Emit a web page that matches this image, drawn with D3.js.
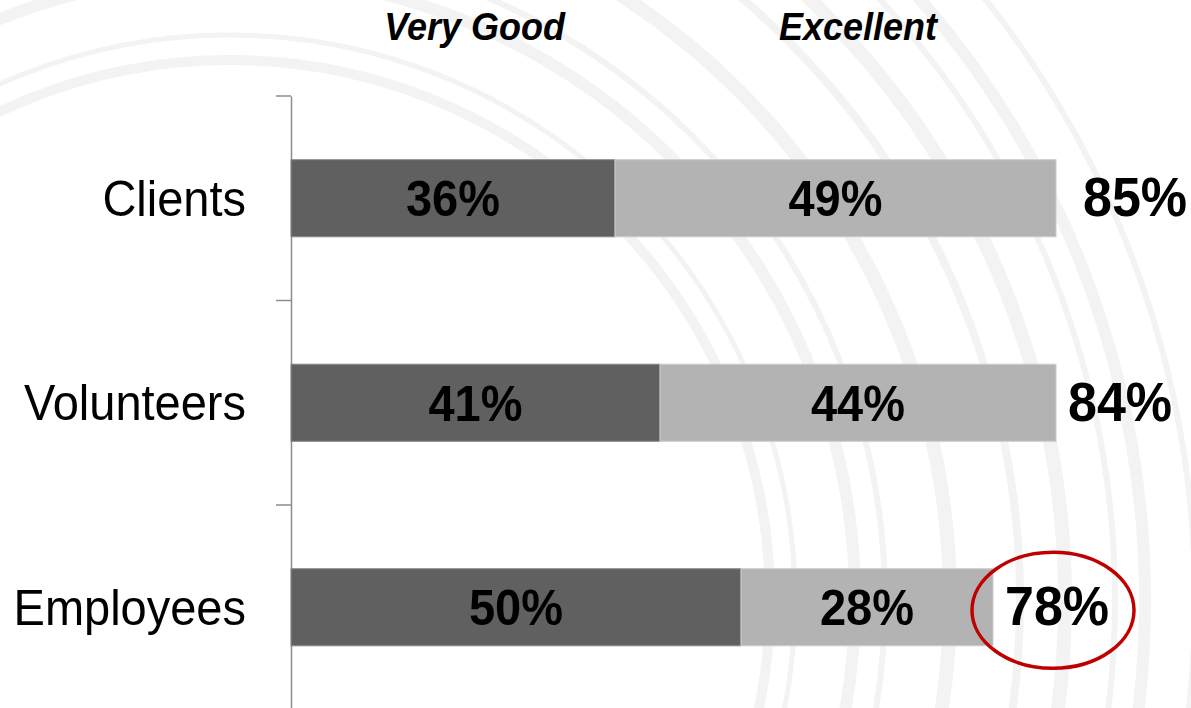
<!DOCTYPE html>
<html>
<head>
<meta charset="utf-8">
<script src="https://cdn.jsdelivr.net/npm/d3@7"></script>
<style>
  html, body { margin: 0; padding: 0; background: #ffffff; }
  svg { display: block; }
</style>
</head>
<body>
<svg id="chart" width="1191" height="708"></svg>
<script>
// Survey ratings by group (percent of respondents)
const categories = ["Clients", "Volunteers", "Employees"];
const seriesNames = ["Very Good", "Excellent"];
const veryGood = [36, 41, 50];
const excellent = [49, 44, 28];
const totalLabels = ["85%", "84%", "78%"];
const highlighted = "Employees";

// Decorative ring radii for the backdrop
const ringRadii = [540, 565, 625, 655, 720, 790, 835, 885, 915, 965];
const ringWidths = [10, 5, 12, 6, 14, 8, 14, 6, 12, 6];

const svg = d3.select("#chart");
const STRETCH = 1.07; // glyphs are drawn slightly taller than wide

// backdrop rings
const ringG = svg.append("g").attr("transform", "translate(230,600)");
ringG.selectAll("circle")
  .data(ringRadii)
  .join("circle")
  .attr("r", d => d)
  .attr("fill", "none")
  .attr("stroke", "#f3f3f3")
  .attr("stroke-width", (d, i) => ringWidths[i]);

// scales
const x = d3.scaleLinear().domain([0, 100]).range([291, 1191]);
const y = d3.scaleBand()
  .domain(categories)
  .range([96, 709.5])
  .paddingInner(0.623)
  .paddingOuter(0.3115);

const rows = categories.map((c, i) => ({
  cat: c,
  vg: veryGood[i],
  ex: excellent[i],
  total: totalLabels[i]
}));

const font = "'Liberation Sans', Arial, sans-serif";

// category axis: labels at band centres, ticks at band boundaries
const axis = d3.axisLeft(y).tickSize(0).tickSizeOuter(0).tickPadding(45);
const axG = svg.append("g").attr("transform", `translate(${x(0)},0)`).call(axis);
axG.select(".domain").attr("stroke", "#8c8c8c").attr("stroke-width", 1.5);
axG.selectAll(".tick text")
  .attr("font-family", font)
  .attr("font-size", 47)
  .attr("fill", "#000")
  .attr("dy", null)
  .attr("y", 0)
  .attr("transform", `translate(0,${17.5}) scale(1,${STRETCH})`);

const gap = y.step() - y.bandwidth();
axG.selectAll("line.boundary")
  .data(categories)
  .join("line")
  .attr("class", "boundary")
  .attr("x1", -15).attr("x2", 0)
  .attr("y1", d => y(d) - gap / 2)
  .attr("y2", d => y(d) - gap / 2)
  .attr("stroke", "#8c8c8c")
  .attr("stroke-width", 1.5);

// bars
const barG = svg.append("g");
barG.selectAll("rect.vg")
  .data(rows)
  .join("rect")
  .attr("class", "vg")
  .attr("x", x(0))
  .attr("y", d => y(d.cat))
  .attr("width", d => x(d.vg) - x(0))
  .attr("height", y.bandwidth())
  .attr("fill", "#606060")
  .attr("stroke", "#8a8a8a")
  .attr("stroke-width", 1);

barG.selectAll("rect.ex")
  .data(rows)
  .join("rect")
  .attr("class", "ex")
  .attr("x", d => x(d.vg))
  .attr("y", d => y(d.cat))
  .attr("width", d => x(d.vg + d.ex) - x(d.vg))
  .attr("height", y.bandwidth())
  .attr("fill", "#b3b3b3")
  .attr("stroke", "#cdcdcd")
  .attr("stroke-width", 1);

const mid = d => y(d.cat) + y.bandwidth() / 2;
const place = (px, py) => `translate(${px},${py}) scale(1,${STRETCH})`;

// segment value labels
barG.selectAll("text.vg")
  .data(rows)
  .join("text")
  .attr("class", "vg")
  .attr("transform", d => place((x(0) + x(d.vg)) / 2, mid(d) + 18))
  .attr("text-anchor", "middle")
  .attr("font-family", font)
  .attr("font-weight", "bold")
  .attr("font-size", 47)
  .text(d => d.vg + "%");

barG.selectAll("text.ex")
  .data(rows)
  .join("text")
  .attr("class", "ex")
  .attr("transform", d => place((x(d.vg) + x(d.vg + d.ex)) / 2, mid(d) + 18))
  .attr("text-anchor", "middle")
  .attr("font-family", font)
  .attr("font-weight", "bold")
  .attr("font-size", 47)
  .text(d => d.ex + "%");

// totals to the right of each bar
barG.selectAll("text.total")
  .data(rows)
  .join("text")
  .attr("class", "total")
  .attr("transform", (d, i) => place(x(d.vg + d.ex) + (i === 0 ? 27 : 12), mid(d) + 18))
  .attr("font-family", font)
  .attr("font-weight", "bold")
  .attr("font-size", 52)
  .text(d => d.total);

// highlight ring around the employees total
const hi = rows.find(r => r.cat === highlighted);
svg.append("ellipse")
  .attr("cx", x(hi.vg + hi.ex) + 60)
  .attr("cy", mid(hi) + 3)
  .attr("rx", 81)
  .attr("ry", 58)
  .attr("fill", "none")
  .attr("stroke", "#c00000")
  .attr("stroke-width", 3.5);

// series headers
const headerPos = [20.4, 63];
svg.selectAll("text.header")
  .data(seriesNames)
  .join("text")
  .attr("class", "header")
  .attr("transform", (d, i) => place(x(headerPos[i]), 39.5))
  .attr("text-anchor", "middle")
  .attr("font-family", font)
  .attr("font-weight", "bold")
  .attr("font-style", "italic")
  .attr("font-size", 36)
  .text(d => d);
</script>
</body>
</html>
